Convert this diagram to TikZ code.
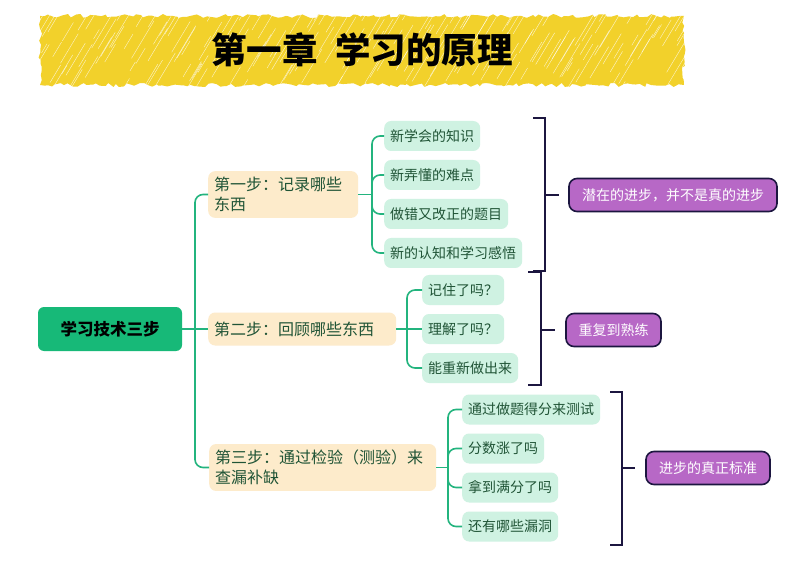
\documentclass[tikz,border=0pt]{standalone}
\usepackage{fontspec}
\setmainfont{Noto Sans CJK SC}
\usetikzlibrary{decorations.pathmorphing}
\definecolor{banner}{HTML}{F2D12B}
\definecolor{rootg}{HTML}{17B978}
\definecolor{conng}{HTML}{23B47E}
\definecolor{stepfill}{HTML}{FDEBCB}
\definecolor{childfill}{HTML}{CFF2E2}
\definecolor{txtg}{HTML}{205436}
\definecolor{purp}{HTML}{B768C6}
\definecolor{navy}{HTML}{1C1640}
\tikzset{
  rootbox/.style={fill=rootg, rounded corners=6pt, minimum width=144pt, minimum height=44pt, font=\fontsize{16.5}{20}\selectfont\bfseries, text=black},
  stepbox/.style={fill=stepfill, rounded corners=7pt, anchor=west, inner xsep=6pt, inner ysep=6pt, align=left, font=\fontsize{16}{20}\selectfont, text=txtg},
  childbox/.style={fill=childfill, rounded corners=7pt, anchor=west, inner xsep=6pt, inner ysep=0pt, minimum height=30pt, font=\fontsize{14}{17}\selectfont, text=txtg},
  purpbox/.style={fill=purp, draw=navy, line width=1.6pt, rounded corners=8pt, minimum height=33pt, font=\fontsize{14}{17}\selectfont, text=white},
  conn/.style={draw=conng, line width=1.6pt, rounded corners=8pt},
  brk/.style={draw=navy, line width=2pt},
}
\begin{document}
\begin{tikzpicture}[x=1pt,y=-1pt]
\useasboundingbox (0,0) rectangle (808,561);
\fill[white] (0,0) rectangle (808,561);
% banner
\pgfmathsetseed{7}
\fill[banner, decorate, decoration={random steps, segment length=4pt, amplitude=2pt}] (40,16) rectangle (684,85);
\begin{scope}
\clip (38,14) rectangle (686,87);
\foreach \i in {0,...,220} {
  \pgfmathsetmacro{\xa}{10+\i*3.2+rand*3}
  \pgfmathsetmacro{\ya}{20+rnd*72}
  \pgfmathsetmacro{\ln}{8+rnd*30}
  \draw[white, line width=0.4pt, opacity=0.75, line cap=round] (\xa,\ya) -- ++(0.6*\ln,-\ln);
}
\end{scope}
\node (title) at (362,50) {\fontsize{35.5}{40}\selectfont\bfseries 第一章\hspace{0.5em}学习的原理};

% root and steps
\node[rootbox] (root) at (110,329) {学习技术三步};
\node[stepbox, text width=138pt] (s1) at (208,194.5) {第一步：记录哪些\\东西};
\node[stepbox, text width=176pt, minimum height=33pt] (s2) at (208,329) {第二步：回顾哪些东西};
\node[stepbox, text width=215pt] (s3) at (209,467.5) {第三步：通过检验（测验）来\\查漏补缺};

% step 1 children
\node[childbox] (c11) at (384,136) {新学会的知识};
\node[childbox] (c12) at (384,175) {新弄懂的难点};
\node[childbox] (c13) at (384,214) {做错又改正的题目};
\node[childbox] (c14) at (384,253) {新的认知和学习感悟};
% step 2 children
\node[childbox] (c21) at (422,290) {记住了吗？};
\node[childbox] (c22) at (422,329) {理解了吗？};
\node[childbox] (c23) at (422,368) {能重新做出来};
% step 3 children
\node[childbox] (c31) at (462,409.5) {通过做题得分来测试};
\node[childbox] (c32) at (462,448.5) {分数涨了吗};
\node[childbox] (c33) at (462,487.5) {拿到满分了吗};
\node[childbox] (c34) at (462,526.5) {还有哪些漏洞};

% purple notes
\node[purpbox, minimum width=208pt] (p1) at (673,195) {潜在的进步，并不是真的进步};
\node[purpbox, minimum width=95pt] (p2) at (613.5,330) {重复到熟练};
\node[purpbox, minimum width=124pt] (p3) at (708,468) {进步的真正标准};

% connectors root
\draw[conn] (s1.west) -| (195,329) |- (s3.west);
\draw[conn] (root.east) -- (s2.west);
% step1
\coordinate (j1) at (372,194.5);
\draw[conn] (s1.east) -- (j1);
\draw[conn] (c11.west) -| (j1) |- (c14.west);
\draw[conn] (j1) |- (c12.west);
\draw[conn] (j1) |- (c13.west);
% step2
\coordinate (j2) at (407,329);
\draw[conn] (s2.east) -- (c22.west);
\draw[conn] (c21.west) -| (j2) |- (c23.west);
% step3
\coordinate (j3) at (448,467.5);
\draw[conn] (s3.east) -- (j3);
\draw[conn] (c31.west) -| (j3) |- (c34.west);
\draw[conn] (j3) |- (c32.west);
\draw[conn] (j3) |- (c33.west);

% brackets
\coordinate (b1) at (545,195);
\draw[brk] (533,118) -- (545,118) -- (545,271) -- (533,271);
\draw[brk, shorten >=9pt] (b1) -- (p1.west);
\coordinate (b2) at (541,330);
\draw[brk] (528,272) -- (541,272) -- (541,385) -- (528,385);
\draw[brk, shorten >=10pt] (b2) -- (p2.west);
\coordinate (b3) at (622,468);
\draw[brk] (610,392) -- (622,392) -- (622,545) -- (610,545);
\draw[brk, shorten >=10pt] (b3) -- (p3.west);
\end{tikzpicture}
\end{document}
